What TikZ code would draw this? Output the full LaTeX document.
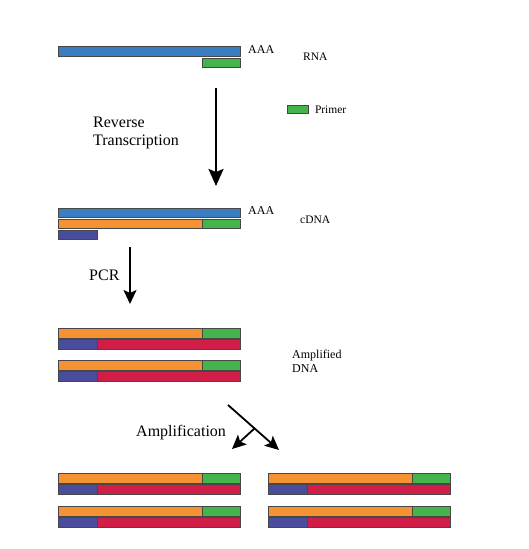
\documentclass[tikz,border=0pt]{standalone}
\usepackage{fontspec}
\setmainfont{Liberation Serif}
\usetikzlibrary{arrows.meta,positioning}
\definecolor{rnablue}{RGB}{58,125,193}
\definecolor{cdnaorange}{RGB}{245,146,52}
\definecolor{primergreen}{RGB}{67,181,74}
\definecolor{pcrpurple}{RGB}{74,77,158}
\definecolor{pcrred}{RGB}{209,30,73}
\tikzset{
  strand/.style={draw=black!72, line width=0.8pt},
  bigarrow/.style={line width=2.3pt, -{Stealth[length=17pt,width=15pt,inset=3pt]}},
  smallarrow/.style={line width=1.8pt, -{Stealth[length=14pt,width=13pt,inset=3pt]}},
  smalllbl/.style={font=\rmfamily\fontsize{11.5}{13}\selectfont, anchor=west, inner sep=0pt},
  steplbl/.style={font=\rmfamily\fontsize{16}{18.5}\selectfont, align=left, anchor=west, inner sep=0pt},
}
\begin{document}
\begin{tikzpicture}[x=1pt,y=-1pt]
    \useasboundingbox (0,0) rectangle (529,549);

    \draw[strand, fill=rnablue] (58,46) rectangle (240,56);
    \draw[strand, fill=primergreen] (202,58) rectangle (240,67);
    \node[smalllbl, font=\rmfamily\fontsize{12}{14}\selectfont] (polyA) at (248,50) {AAA};
    \node[smalllbl] (rna) at (303,57) {RNA};

    \node[strand, fill=primergreen, minimum width=21pt, minimum height=8pt, inner sep=0pt, anchor=north west] (primerkey) at (287,105) {};
    \node[smalllbl, right=6pt of primerkey] (primer) {Primer};

    \coordinate (rt top) at (216,88);
    \coordinate (rt bottom) at (216,186);
    \draw[bigarrow] (rt top) -- (rt bottom);
    \node[steplbl] (rt) at (93,133) {Reverse\\Transcription};

    \draw[strand, fill=rnablue] (58,208) rectangle (240,217);
    \draw[strand, fill=cdnaorange] (58,219) rectangle (202,228);
    \draw[strand, fill=primergreen] (202,219) rectangle (240,228);
    \draw[strand, fill=pcrpurple] (58,230) rectangle (97,239);
    \node[smalllbl, font=\rmfamily\fontsize{12}{14}\selectfont] (polyA2) at (248,211) {AAA};
    \node[smalllbl] (cdna) at (300,220) {cDNA};

    \coordinate (pcr top) at (130,247);
    \coordinate (pcr bottom) at (130,304);
    \draw[smallarrow] (pcr top) -- (pcr bottom);
    \node[steplbl] (pcr) at (89,275) {PCR};

    \foreach \x/\y in {58/328, 58/360, 58/473, 58/506, 268/473, 268/506}{%
      \draw[strand, fill=cdnaorange] (\x,\y) rectangle ({\x+144},{\y+10});
      \draw[strand, fill=primergreen] ({\x+144},\y) rectangle ({\x+182},{\y+10});
      \draw[strand, fill=pcrpurple] (\x,{\y+11}) rectangle ({\x+39},{\y+21});
      \draw[strand, fill=pcrred] ({\x+39},{\y+11}) rectangle ({\x+182},{\y+21});
    }
    \node[smalllbl, align=left, font=\rmfamily\fontsize{12}{14}\selectfont] (amplified) at (292,361) {Amplified\\DNA};

    \coordinate (amp top) at (228,405);
    \coordinate (amp fork) at (255,428);
    \coordinate (amp right) at (279,450);
    \coordinate (amp left) at (232,449);
    \draw[smallarrow] (amp top) -- (amp right);
    \draw[smallarrow] (amp fork) -- (amp left);
    \node[steplbl] (amplification) at (136,433) {Amplification};

\end{tikzpicture}
\end{document}
